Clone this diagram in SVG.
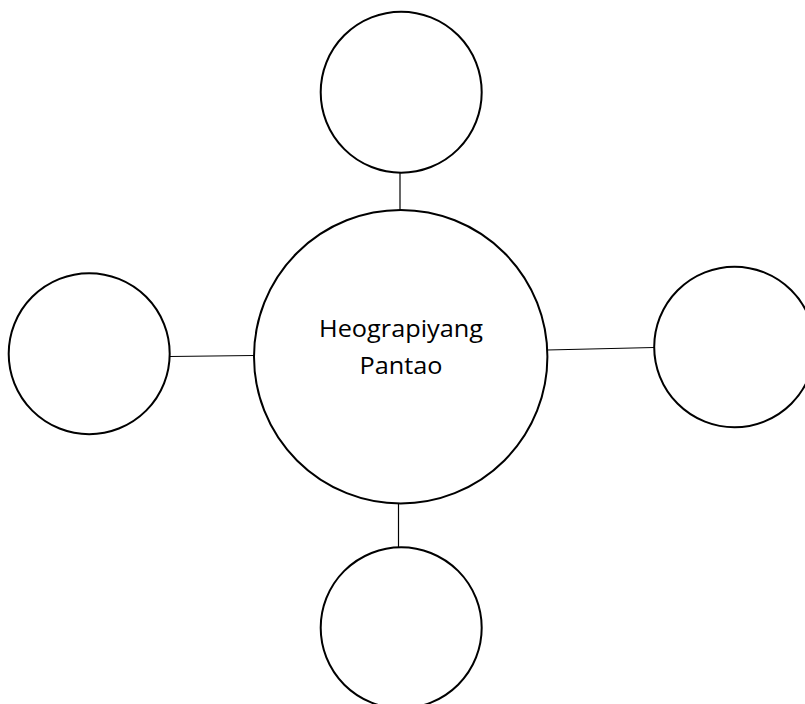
<svg xmlns="http://www.w3.org/2000/svg" width="805" height="704" viewBox="0 0 805 704">
<style>
.node{fill:#fff;stroke:#000;stroke-width:2}
.conn{stroke:#000;stroke-width:1.2;fill:none}
.lbl{font-family:"Open Sans","Liberation Sans",sans-serif;font-size:24px;fill:#000;text-anchor:middle}
</style>
<rect width="805" height="704" fill="#fff"/>
<g id="connectors">
<line class="conn" x1="400" y1="173" x2="400" y2="210"/>
<line class="conn" x1="170" y1="356.5" x2="254" y2="355.5"/>
<line class="conn" x1="547" y1="350" x2="654" y2="347.5"/>
<line class="conn" x1="398.5" y1="503" x2="398.5" y2="547.5"/>
</g>
<g id="center">
<circle class="node" cx="400.7" cy="356.7" r="146.7"/>
<text class="lbl" x="401" y="337" textLength="164" lengthAdjust="spacingAndGlyphs">Heograpiyang</text>
<text class="lbl" x="401" y="374" textLength="83" lengthAdjust="spacingAndGlyphs">Pantao</text>
</g>
<g id="top"><circle class="node" cx="401.2" cy="92.2" r="80.5"/></g>
<g id="left"><circle class="node" cx="89.2" cy="353.7" r="80.5"/></g>
<g id="right"><circle class="node" cx="734.5" cy="347" r="80.3"/></g>
<g id="bottom"><circle class="node" cx="401.2" cy="627.8" r="80.5"/></g>
</svg>
